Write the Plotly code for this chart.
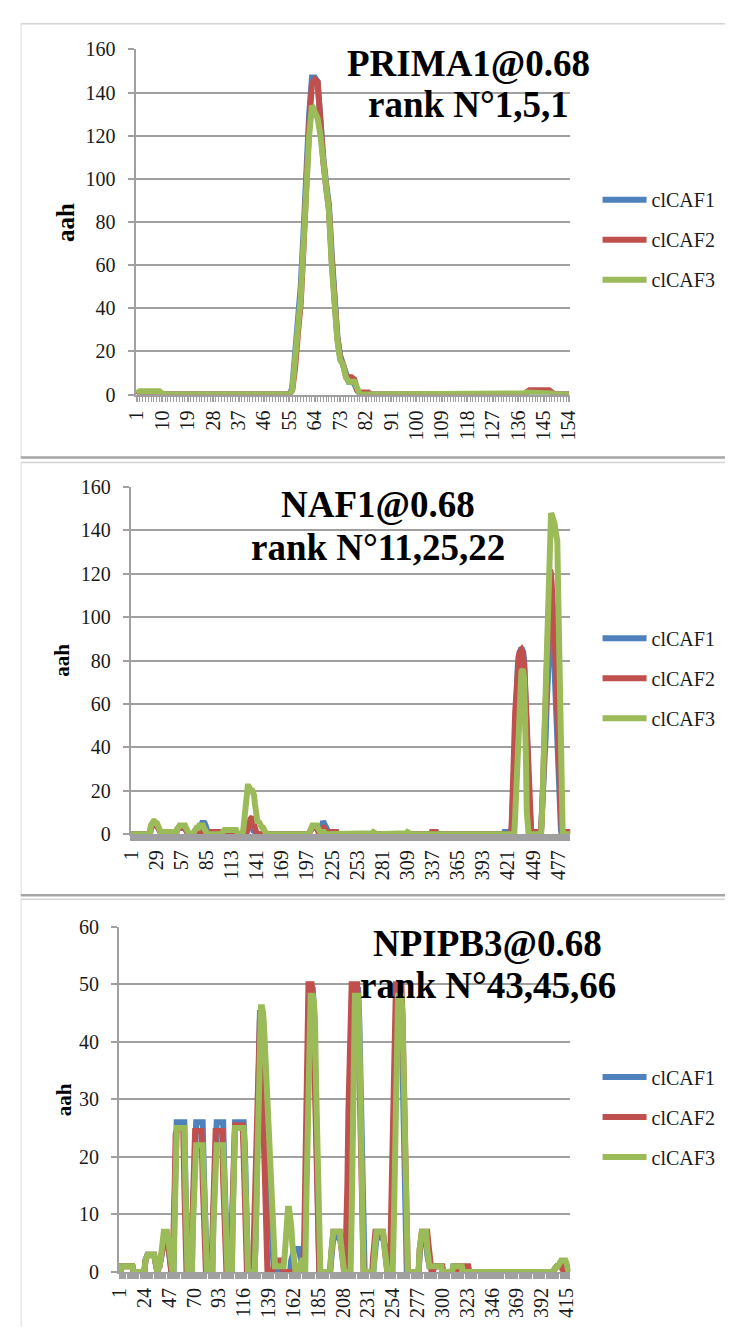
import plotly.graph_objects as go

W, H = 734, 1338
FONT = "Liberation Serif, Times New Roman, serif"
BLUE, RED, GREEN = "#4F81BD", "#C0504D", "#9BBB59"
AXIS_GRAY = "#a0a0a0"
SERIES_NAMES = ["clCAF1", "clCAF2", "clCAF3"]
SERIES_COLORS = [BLUE, RED, GREEN]

# ---------------- Panel 1 : PRIMA1 ----------------
P1_N = 154
P1_TITLE = ["PRIMA1@0.68", "rank N°1,5,1"]
P1_TICKS = [1, 10, 19, 28, 37, 46, 55, 64, 73, 82, 91, 100, 109, 118, 127, 136, 145, 154]
P1_YTICKS = [0, 20, 40, 60, 80, 100, 120, 140, 160]
# non-zero runs: {first category: [values...]}, all other categories read as 0
p1_caf1 = {2: [1, 1, 1, 1, 1, 1, 1, 1],
           56: [3, 18, 35, 50, 75, 105, 130, 147, 147, 145, 125, 110, 98, 88, 65, 45, 27, 18,
                14, 8, 6, 6, 5, 2],
           139: [1, 1, 1, 1, 1, 1, 1, 1, 1]}
p1_caf2 = {2: [1, 1, 1, 1, 1, 1, 1, 1],
           56: [2, 12, 28, 42, 68, 100, 125, 144, 146, 145, 122, 108, 96, 86, 62, 43, 26, 17,
                14, 9, 8, 8, 7, 2, 1, 1, 1, 1],
           139: [1, 2, 2, 2, 2, 2, 2, 2, 2, 1]}
p1_caf3 = {1: [0.5, 1.5, 1.5, 1.5, 1.5, 1.5, 1.5, 1.5, 1.5, 0.5],
           56: [2, 15, 30, 45, 70, 100, 120, 134, 131, 128, 120, 107, 95, 85, 60, 42, 25, 16,
                14, 8, 6, 6, 6, 3],
           138: [0.5, 1, 1, 1, 1, 1, 1, 1, 1, 1, 0.5]}

# ---------------- Panel 2 : NAF1 ----------------
P2_N = 490
P2_TITLE = ["NAF1@0.68", "rank N°11,25,22"]
P2_TICKS = [1, 29, 57, 85, 113, 141, 169, 197, 225, 253, 281, 309, 337, 365, 393, 421, 449, 477]
P2_YTICKS = [0, 20, 40, 60, 80, 100, 120, 140, 160]
p2_caf1 = {23: [3, 4, 5, 5, 5, 4, 4, 4, 3, 2, 1],
           52: [2, 3, 3, 3, 3, 3, 3, 3, 3, 3, 2, 1],
           72: [1, 1, 2, 2, 2, 2, 3, 4, 5, 6, 5, 5, 4, 2, 1],
           104: [1, 1, 1, 1, 1, 1, 1, 1, 1, 1, 1, 1, 1, 1, 1],
           128: [1, 2, 3, 3, 3, 3, 3, 3, 3, 2, 2, 1, 1],
           200: [1, 2, 3, 3, 3, 3, 3, 3, 3, 2, 1],
           212: [1, 3, 5, 6, 5, 4, 3, 2, 1, 1, 1],
           417: [1, 1, 1, 1, 1, 1, 1],
           425: [2, 10, 25, 40, 55, 65, 72, 78, 82, 85, 86, 86, 85, 84, 80, 72, 62, 48, 35, 20, 8, 2],
           458: [3, 10, 18, 25, 35, 45, 58, 70, 83, 95, 103, 105, 104, 100, 90, 75, 62, 50, 40, 30,
                 18, 8, 2]}
p2_caf2 = {23: [3, 4, 5, 5, 5, 5, 4, 4, 3, 2, 1],
           52: [2, 3, 3, 3, 3, 3, 3, 3, 3, 3, 2, 1],
           72: [1, 1, 2, 2, 2, 1, 1, 0, 0, 1, 2, 2, 1],
           91: [1, 1, 1, 1, 1, 1, 1, 1, 1, 1, 1, 1],
           104: [1, 1, 1, 1, 1, 1, 1, 1, 1, 1, 1, 1, 1, 1, 1],
           130: [1, 2, 3, 5, 7, 8, 8, 6, 4, 2, 1],
           200: [1, 2, 3, 3, 3, 3, 3, 3, 3, 2, 1],
           212: [1, 2, 3, 3, 3, 2, 2, 1, 1, 1, 1, 1, 1, 1, 1, 1, 1, 1, 1],
           336: [1, 1, 1, 1, 1, 1],
           425: [3, 12, 28, 42, 56, 66, 73, 78, 82, 84, 85, 85, 84, 82, 78, 70, 60, 47, 34, 20, 8, 2],
           450: [1, 1, 1, 1, 1, 1, 1, 1],
           458: [2, 8, 20, 35, 50, 65, 80, 95, 108, 118, 122, 120, 115, 110, 100, 90, 78, 65, 52,
                 40, 28, 15, 5, 1],
           482: [1, 1, 1, 1, 1, 1, 1]}
p2_caf3 = {23: [4, 5, 6, 6, 6, 5, 5, 5, 4, 2, 1],
           34: [1, 1, 1, 1, 1, 1, 1, 1, 1, 1, 1, 1, 1],
           52: [2, 3, 4, 4, 4, 4, 4, 4, 4, 4, 3, 2, 1],
           71: [1, 2, 3, 3, 3, 3, 4, 4, 4, 4, 4, 3, 2, 1],
           103: [1, 2, 2, 2, 2, 2, 2, 2, 2, 2, 2, 2, 2, 2, 2, 2, 1],
           126: [2, 8, 14, 19, 21, 22, 22, 21, 21, 20, 20, 19, 18, 14, 8, 5, 5, 6, 5, 4, 4, 3, 3,
                 2, 1, 1],
           200: [1, 3, 4, 4, 4, 4, 4, 4, 4, 3, 2, 1],
           212: [1, 1, 1, 1, 1],
           270: [0.5, 1, 1, 0.5],
           308: [0.5, 1, 1, 0.5],
           428: [0, 8, 18, 30, 42, 55, 65, 72, 75, 76, 75, 72, 60, 35, 10],
           459: [10, 25, 40, 55, 70, 85, 100, 115, 130, 142, 148, 147, 146, 145, 143, 140, 138,
                 135, 110, 80, 55, 28, 5]}

# ---------------- Panel 3 : NPIPB3 ----------------
P3_N = 418
P3_TITLE = ["NPIPB3@0.68", "rank N°43,45,66"]
P3_TICKS = [1, 24, 47, 70, 93, 116, 139, 162, 185, 208, 231, 254, 277, 300, 323, 346, 369, 392, 415]
P3_YTICKS = [0, 10, 20, 30, 40, 50, 60]
p3_caf1 = {3: [1, 1, 1, 1, 1, 1, 1, 1, 1, 1, 1],
           25: [2, 3, 3, 3, 3, 3, 3, 3, 3, 2, 1],
           37: [1, 1, 2, 3, 5, 6, 6, 6, 6, 5, 3, 1],
           52: [12, 24, 26, 26, 26, 26, 26, 26, 26, 26, 16, 4],
           69: [10, 18, 26, 26, 26, 26, 26, 26, 26, 26, 18, 8],
           88: [10, 18, 26, 26, 26, 26, 26, 26, 26, 26, 18, 8],
           106: [12, 22, 26, 26, 26, 26, 26, 26, 26, 26, 26, 22, 10],
           127: [5, 15, 28, 40, 45, 45, 40, 30, 22, 18, 16, 15, 14, 13, 10, 6, 3],
           160: [2, 3, 4, 4, 4, 4, 4, 4, 3, 2, 1],
           173: [10, 22, 35, 45, 49, 49, 49, 49, 46, 38, 26, 14, 4],
           197: [2, 5, 6, 6, 6, 6, 6, 6, 6, 5, 4, 4, 4, 4, 4, 3, 2],
           215: [8, 20, 35, 45, 49, 49, 49, 49, 44, 32, 20, 8],
           237: [2, 5, 6, 6, 6, 6, 6, 6, 6, 5, 4, 4, 4, 4, 4, 4],
           253: [4, 10, 22, 34, 44, 49, 49, 49, 49, 46, 36, 25, 15, 5],
           279: [3, 6, 6, 6, 6, 6, 6, 3, 1],
           288: [1, 1, 1, 1, 1, 1, 1, 1, 1, 1, 1, 1],
           310: [1, 1, 1, 1, 1, 1, 1, 1, 1],
           404: [0.5, 1, 1, 1, 1, 1.5, 1.5, 1.5, 1.5, 1.5, 1, 0.5]}
p3_caf2 = {3: [1, 1, 1, 1, 1, 1, 1, 1, 1, 1, 1],
           25: [2, 3, 3, 3, 3, 3, 3, 3, 3, 2, 1],
           37: [1, 1, 2, 3, 5, 6, 6, 6, 6, 5, 3, 1],
           51: [5, 14, 24, 25, 25, 25, 25, 25, 25, 25, 15, 4],
           68: [6, 14, 24.5, 24.5, 24.5, 24.5, 24.5, 24.5, 24.5, 24.5, 16, 8],
           87: [6, 14, 24.5, 24.5, 24.5, 24.5, 24.5, 24.5, 24.5, 24.5, 16, 8],
           105: [8, 18, 25.5, 25.5, 25.5, 25.5, 25.5, 25.5, 25.5, 25.5, 25.5, 20, 10],
           125: [3, 10, 20, 30, 38, 42, 44, 42, 35, 25, 15, 8, 3],
           144: [1, 2, 2, 2, 2, 2, 2, 1],
           172: [5, 20, 35, 45, 50, 50, 50, 50, 48, 40, 28, 15, 5],
           197: [3, 7, 7, 7, 7, 7, 7, 7, 7, 5, 2],
           211: [5, 15, 28, 40, 48, 50, 50, 50, 50, 50, 50, 45, 35, 22, 10],
           236: [3, 7, 7, 7, 7, 7, 7, 7, 7, 7, 5, 2],
           252: [5, 15, 28, 40, 48, 50, 50, 50, 50, 50, 50, 45, 35, 22, 10],
           279: [4, 7, 7, 7, 7, 7, 7, 7, 5, 2],
           292: [1, 1, 1, 1, 1, 1, 1, 1, 1],
           314: [1, 1, 1, 1, 1, 1, 1, 1, 1, 1, 1],
           404: [0.5, 1, 1, 1, 1, 1, 1, 0.5]}
p3_caf3 = {3: [1, 1, 1, 1, 1, 1, 1, 1, 1, 1, 1],
           25: [2, 3, 3, 3, 3, 3, 3, 3, 3, 2, 1],
           37: [1, 1, 2, 4, 6, 7, 7, 7, 7, 6, 4, 2],
           52: [10, 22, 25, 25, 25, 25, 25, 25, 25, 25, 15, 3],
           69: [8, 16, 22, 22, 22, 22, 22, 22, 22, 22, 16, 8],
           88: [8, 16, 22, 22, 22, 22, 22, 22, 22, 22, 16, 8],
           106: [10, 20, 25, 25, 25, 25, 25, 25, 25, 25, 25, 20, 10],
           127: [5, 15, 25, 35, 44, 46, 46, 45, 42, 38, 33, 28, 23, 19, 15, 12, 8, 4, 1],
           146: [1, 1, 1, 1, 1, 1, 1, 1, 3, 7, 10, 11, 11, 10, 8, 5, 2, 1],
           168: [1, 2, 2, 2, 1],
           174: [12, 24, 36, 46, 48, 48, 48, 47, 44, 33, 22, 10],
           197: [3, 7, 7, 7, 7, 7, 7, 7, 7, 5, 2],
           216: [10, 25, 40, 48, 48, 48, 48, 42, 30, 18, 6],
           237: [3, 6, 7, 7, 7, 7, 7, 7, 7, 5, 2],
           255: [8, 20, 32, 42, 48, 48, 48, 48, 45, 35, 24, 14, 5],
           279: [4, 7, 7, 7, 7, 7, 7, 4, 1],
           288: [1, 1, 1, 1, 1, 1, 1, 1, 1, 1, 1, 1],
           310: [1, 1, 1, 1, 1, 1, 1, 1, 1],
           404: [0.5, 1, 1, 1, 1.5, 2, 2, 2, 2, 2, 2, 1.5, 0.5]}


def expand(runs, n):
    vals = [0.0] * n
    for start, seg in runs.items():
        for k, v in enumerate(seg):
            if start - 1 + k < n:
                vals[start - 1 + k] = v
    return vals


def px_x(x):
    return x / W


def px_y(y):
    return 1 - y / H


# layout geometry (pixels): plot left, right, top, bottom
panels = [
    dict(n=P1_N, ticks=P1_TICKS, yticks=P1_YTICKS, series=[p1_caf1, p1_caf2, p1_caf3],
         title=P1_TITLE, box=(128, 575, 39, 390), title_x=470, title_y=(53, 95),
         aah=(56, 215, 25), legend_top=172, frame=(13, 454)),
    dict(n=P2_N, ticks=P2_TICKS, yticks=P2_YTICKS, series=[p2_caf1, p2_caf2, p2_caf3],
         title=P2_TITLE, box=(123, 575, 484, 837), title_x=377, title_y=(502, 545),
         aah=(53, 660, 21), legend_top=618, frame=(459, 899)),
    dict(n=P3_N, ticks=P3_TICKS, yticks=P3_YTICKS, series=[p3_caf1, p3_caf2, p3_caf3],
         title=P3_TITLE, box=(111, 575, 931, 1282), title_x=490, title_y=(948, 991),
         aah=(54, 1107, 21), legend_top=1064, frame=(903, None)),
]

fig = go.Figure()
layout = dict(width=W, height=H, margin=dict(l=0, r=0, t=0, b=0),
              paper_bgcolor="white", plot_bgcolor="white",
              font=dict(family=FONT, size=20, color="#1a1a1a"),
              annotations=[], shapes=[])

for i, p in enumerate(panels, start=1):
    sfx = "" if i == 1 else str(i)
    cats = list(range(1, p["n"] + 1))
    for k, (name, color, runs) in enumerate(zip(SERIES_NAMES, SERIES_COLORS, p["series"])):
        fig.add_trace(go.Scatter(
            x=cats, y=expand(runs, p["n"]), mode="lines", name=name,
            line=dict(color=color, width=6),
            xaxis="x" + sfx, yaxis="y" + sfx, legend="legend" + sfx,
            legendgroup=f"p{i}s{k}", hoverinfo="skip"))
    l, r, t, b = p["box"]
    layout["xaxis" + sfx] = dict(
        domain=[px_x(l), px_x(r)], anchor="y" + sfx, range=[0.5, p["n"] + 0.5],
        tickmode="array", tickvals=p["ticks"], ticktext=[str(v) for v in p["ticks"]],
        tickangle=-90, ticks="outside", ticklen=5, tickwidth=1.5, tickcolor=AXIS_GRAY,
        minor=dict(dtick=1, tick0=0, ticks="outside", ticklen=5, tickwidth=1.2,
                   tickcolor=AXIS_GRAY),
        showline=True, linecolor=AXIS_GRAY, linewidth=2, showgrid=False, zeroline=False,
        ticklabelstandoff=1,
        tickfont=dict(size=20, family=FONT, color="#1a1a1a"), fixedrange=True)
    ymax = p["yticks"][-1]
    layout["yaxis" + sfx] = dict(
        domain=[px_y(b), px_y(t)], anchor="x" + sfx, range=[0, ymax],
        tickmode="array", tickvals=p["yticks"], ticks="outside", ticklen=6, tickwidth=2,
        tickcolor=AXIS_GRAY, showline=True, linecolor=AXIS_GRAY, linewidth=2,
        showgrid=True, gridcolor=AXIS_GRAY, gridwidth=2, zeroline=False,
        ticklabelstandoff=8,
        tickfont=dict(size=20, family=FONT, color="#1a1a1a"), fixedrange=True)
    layout["legend" + sfx] = dict(
        x=px_x(603), y=px_y(p["legend_top"]), xanchor="left", yanchor="top",
        bgcolor="rgba(0,0,0,0)", font=dict(size=20, family=FONT, color="#1a1a1a"),
        tracegroupgap=11, itemwidth=44, traceorder="grouped")
    # titles
    for txt, ty in zip(p["title"], p["title_y"]):
        layout["annotations"].append(dict(
            text=f"<b>{txt}</b>", x=px_x(p["title_x"]), y=px_y(ty), xref="paper", yref="paper",
            xanchor="center", yanchor="middle", showarrow=False,
            font=dict(size=37, family=FONT, color="#000000")))
    ax, ay, asz = p["aah"]
    layout["annotations"].append(dict(
        text="<b>aah</b>", x=px_x(ax), y=px_y(ay), xref="paper", yref="paper",
        xanchor="center", yanchor="middle", textangle=-90, showarrow=False,
        font=dict(size=asz, family=FONT, color="#000000")))
    # panel frame lines
    top, bottom = p["frame"]
    layout["shapes"].append(dict(type="line", xref="paper", yref="paper",
                                 x0=px_x(10), x1=1, y0=px_y(top), y1=px_y(top),
                                 line=dict(color="#d4d4d4", width=1.5)))
    layout["shapes"].append(dict(type="line", xref="paper", yref="paper",
                                 x0=px_x(10.5), x1=px_x(10.5), y0=px_y(top),
                                 y1=px_y(bottom if bottom else H),
                                 line=dict(color="#e2e2e2", width=1.2)))
    if bottom:
        layout["shapes"].append(dict(type="line", xref="paper", yref="paper",
                                     x0=px_x(10), x1=1, y0=px_y(bottom), y1=px_y(bottom),
                                     line=dict(color="#a6a6a6", width=2.5)))

fig.update_layout(**layout)
POST = "document.body.style.margin='0';document.body.style.overflow='hidden';"
fig.write_html("out.html", config={"displayModeBar": False}, post_script=POST)
